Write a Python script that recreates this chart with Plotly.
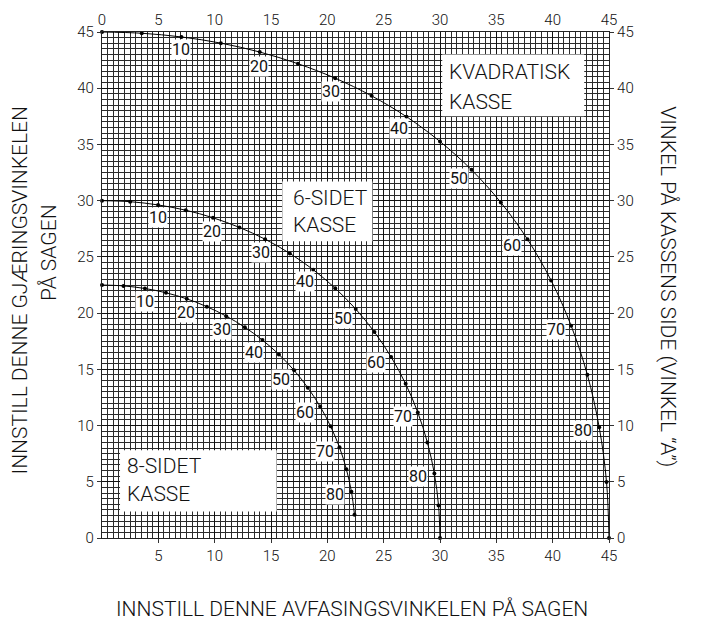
import plotly.graph_objects as go

# side angle "A" of the box, in degrees (dots every 5, labels every 10)
side_angles = [0, 5, 10, 15, 20, 25, 30, 35, 40, 45, 50, 55, 60, 65, 70, 75, 80, 85, 90]
label_angles = [10, 20, 30, 40, 50, 60, 70, 80]

# square box: bevel (x) and miter (y)
square_bevel = [0, 3.53, 7.05, 10.55, 14.0, 17.39, 20.7, 23.93, 27.03, 30.0,
                32.8, 35.4, 37.76, 39.86, 41.64, 43.08, 44.13, 44.78, 45.0]
square_miter = [45.0, 44.89, 44.56, 44.01, 43.22, 42.18, 40.89, 39.32, 37.46, 35.26,
                32.74, 29.84, 26.57, 22.91, 18.88, 14.51, 9.85, 4.98, 0]

# 6-sided box
hex_bevel = [0, 2.5, 4.98, 7.44, 9.85, 12.2, 14.48, 16.67, 18.75, 20.7,
             22.52, 24.18, 25.66, 26.95, 28.03, 28.88, 29.5, 29.87, 30.0]
hex_miter = [30.0, 29.91, 29.62, 29.15, 28.48, 27.62, 26.57, 25.31, 23.86, 22.21,
             20.36, 18.32, 16.1, 13.71, 11.17, 8.5, 5.73, 2.88, 0]

# 8-sided box (curve stops at 85)
oct_bevel = [0, 1.91, 3.81, 5.68, 7.52, 9.31, 11.03, 12.68, 14.24, 15.7,
             17.05, 18.27, 19.36, 20.29, 21.08, 21.69, 22.14, 22.41]
oct_miter = [22.5, 22.42, 22.19, 21.81, 21.27, 20.57, 19.73, 18.74, 17.6, 16.33,
             14.91, 13.36, 11.7, 9.93, 8.06, 6.12, 4.11, 2.07]

axis_ticks = [0, 5, 10, 15, 20, 25, 30, 35, 40, 45]

FONT = "Roboto, Liberation Sans, Arial, sans-serif"
INK = "#111111"

# label offsets (pixels) from its dot, per label index
label_dx = [0, -1, -4, -8, -13, -15, -15, -16]
label_dy = [13, 14, 13, 12, 9, 6, 4, 3]

fig = go.Figure()

curves = [
    (square_bevel, square_miter),
    (hex_bevel, hex_miter),
    (oct_bevel, oct_miter),
]

annotations = []
for bevel, miter in curves:
    fig.add_trace(
        go.Scatter(
            x=bevel,
            y=miter,
            mode="lines+markers",
            line=dict(color="black", width=1, shape="spline"),
            marker=dict(color="black", size=4),
            cliponaxis=False,
            hoverinfo="skip",
        )
    )
    for i, a in enumerate(label_angles):
        k = side_angles.index(a)
        annotations.append(
            dict(
                x=bevel[k], y=miter[k], xref="x", yref="y",
                text=str(a), showarrow=False,
                xshift=label_dx[i], yshift=-label_dy[i],
                font=dict(family=FONT, size=16, color=INK),
                bgcolor="white", borderpad=0,
            )
        )

# invisible trace so the top / right axes are drawn
fig.add_trace(go.Scatter(x=[0, 45], y=[0, 45], xaxis="x2", yaxis="y2",
                         mode="markers", marker=dict(opacity=0), hoverinfo="skip"))

# white boxes with the box type names
boxes = [
    (30.2, 42.8, 37.5, 43.0, 30.6, ["KVADRATISK", "KASSE"], [41.45, 38.8]),
    (16.0, 24.0, 26.4, 31.7, 16.8, ["6-SIDET", "KASSE"], [30.25, 27.85]),
    (1.6, 15.5, 2.35, 7.8, 2.0, ["8-SIDET", "KASSE"], [6.4, 3.9]),
]
shapes = []
for x0, x1, y0, y1, tx, lines, ty in boxes:
    shapes.append(dict(type="rect", xref="x", yref="y", x0=x0, x1=x1, y0=y0, y1=y1,
                       fillcolor="white", line=dict(width=0), layer="between"))
    for txt, yy in zip(lines, ty):
        annotations.append(dict(x=tx, y=yy, xref="x", yref="y", text=txt,
                                showarrow=False, xanchor="left", yanchor="middle",
                                font=dict(family=FONT, size=21, color=INK, weight=300)))

title_font = dict(family=FONT, size=21, color=INK, weight=300)
title = dict(xref="paper", yref="paper", showarrow=False, xanchor="center",
             yanchor="middle", font=title_font)
annotations += [
    dict(x=0.493, y=-0.14, text="INNSTILL DENNE AVFASINGSVINKELEN PÅ SAGEN", **title),
    dict(x=-0.161, y=0.49, textangle=-90, text="INNSTILL DENNE GJÆRINGSVINKELEN", **title),
    dict(x=-0.105, y=0.563, textangle=-90, text="PÅ SAGEN", **title),
    dict(x=1.116, y=0.496, textangle=90, text="VINKEL PÅ KASSENS SIDE (VINKEL “A”)", **title),
]

tick_font = dict(family=FONT, size=15, color=INK, weight=300)
grid_minor = dict(dtick=0.5, showgrid=True, gridcolor="#2a2a2a", gridwidth=0.8, ticks="")
common = dict(range=[0, 45], showline=True, linecolor="#222", linewidth=1.2,
              zeroline=False, tickfont=tick_font, fixedrange=True, automargin=False)
tick_marks = dict(ticks="outside", ticklen=4, tickcolor="#333")

# the page body adds 8px on the left and top, so those margins are 8px smaller
fig.update_layout(
    width=704, height=621,
    margin=dict(l=94, r=103, t=24, b=91),
    paper_bgcolor="white", plot_bgcolor="white",
    showlegend=False,
    xaxis=dict(tickvals=axis_ticks[1:], showgrid=True, gridcolor="#111", gridwidth=1.4,
               minor=grid_minor, **tick_marks, **common),
    yaxis=dict(tickvals=axis_ticks, showgrid=True, gridcolor="#111", gridwidth=1.4,
               minor=grid_minor, **tick_marks, **common),
    xaxis2=dict(overlaying="x", side="top", tickvals=axis_ticks, showgrid=False,
                ticks="", **common),
    yaxis2=dict(overlaying="y", side="right", tickvals=axis_ticks, showgrid=False,
                **tick_marks, **common),
    annotations=annotations,
    shapes=shapes,
)

fig.write_html("out.html")
